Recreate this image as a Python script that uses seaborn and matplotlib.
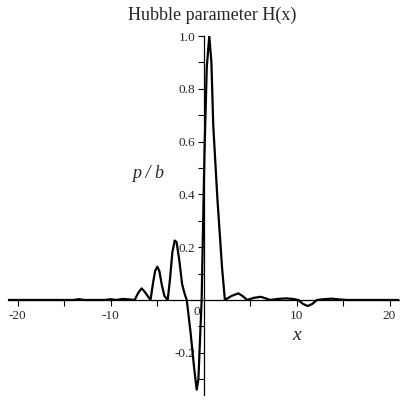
import numpy as np
import pandas as pd
import matplotlib
matplotlib.use("Agg")
import matplotlib.pyplot as plt
from matplotlib.ticker import FixedLocator
import seaborn as sns

# points
x_vals = [-21, -14, -13.4, -12.8, -10.6, -10.0, -9.4, -8.7, -8.0, -7.4,
          -7.0, -6.65, -6.3, -5.7, -5.4, -5.2, -4.97, -4.75, -4.5, -4.2,
          -3.85, -3.6, -3.35, -3.1, -2.9, -2.6, -2.3, -2.0, -1.8, -1.4,
          -1.0, -0.73, -0.55, -0.2, 0.1, 0.35, 0.62, 0.85, 1.05, 1.5,
          2.0, 2.3, 3.0, 3.74, 4.2, 4.7, 5.4, 6.15, 6.7, 7.15,
          8.0, 8.9, 9.6, 10.2, 10.7, 11.2, 11.7, 12.2, 13.0, 13.8,
          14.6, 15.5, 21]
h_vals = [0, 0, 0.003, 0, 0, 0.003, 0, 0.004, 0.002, 0,
          0.028, 0.044, 0.03, 0, 0.07, 0.11, 0.126, 0.11, 0.06, 0.015,
          0, 0.08, 0.18, 0.225, 0.22, 0.15, 0.06, 0.02, 0, -0.12,
          -0.26, -0.34, -0.30, 0, 0.55, 0.88, 1.0, 0.9, 0.66, 0.38,
          0.12, 0, 0.015, 0.025, 0.015, 0, 0.008, 0.012, 0.006, 0,
          0.004, 0.006, 0.004, 0, -0.015, -0.023, -0.015, 0, 0.003, 0.005,
          0.002, 0, 0]

x_major = [-20, -10, 10, 20]
x_minor = [-15, -5, 5, 15]
y_major = [-0.2, 0.2, 0.4, 0.6, 0.8, 1.0]
y_minor = [-0.3, -0.1, 0.1, 0.3, 0.5, 0.7, 0.9]

sns.set_style("white")
plt.rcParams['font.family'] = ['Liberation Serif', 'DejaVu Serif']

df = pd.DataFrame({"x": x_vals, "H": h_vals})

fig = plt.figure(figsize=(4, 4), dpi=100)
ax = fig.add_axes([0.0205, 0.0125, 0.9765, 0.8975])

sns.lineplot(data=df, x="x", y="H", color="black", linewidth=1.6, ax=ax)

ax.set_xlim(-21, 21)
ax.set_ylim(-0.36, 1.0)

for s in ["top", "right"]:
    ax.spines[s].set_visible(False)
for s in ["left", "bottom"]:
    ax.spines[s].set_position("zero")
    ax.spines[s].set_linewidth(0.9)
    ax.spines[s].set_color("black")

ax.xaxis.set_major_locator(FixedLocator(x_major))
ax.xaxis.set_minor_locator(FixedLocator(x_minor))
ax.yaxis.set_major_locator(FixedLocator(y_major))
ax.yaxis.set_minor_locator(FixedLocator(y_minor))
ax.set_xticklabels([str(v) for v in x_major])
ax.set_yticklabels([f"{v:.1f}" for v in y_major])
ax.tick_params(which="both", direction="out", length=4, width=0.8,
               color="black", labelsize=9.5, pad=2, bottom=True, left=True)
ax.tick_params(axis="x", which="both", pad=3)

ax.set_xlabel("")
ax.set_ylabel("")
ax.text(-0.7, -0.045, "0", ha="center", va="center", fontsize=9.5)

fig.text(0.53, 0.962, "Hubble parameter H(x)", ha="center", va="center",
         fontsize=13)
ax.text(10.0, -0.135, "x", style="italic", ha="center", va="center", fontsize=14)
ax.text(-6.0, 0.48, "p / b", style="italic", ha="center", va="center",
        fontsize=13)

fig.savefig("out.png", dpi=100)
